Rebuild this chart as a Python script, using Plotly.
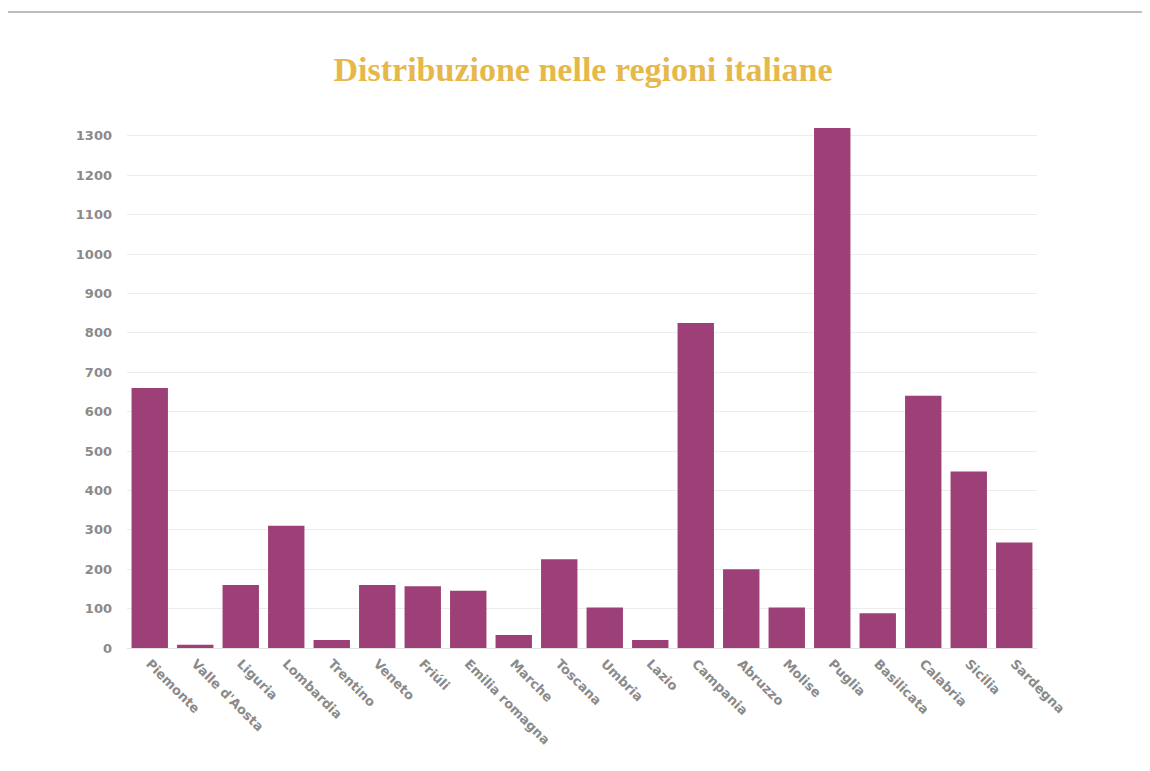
import plotly.graph_objects as go

regions = ["Piemonte", "Valle d'Aosta", "Liguria", "Lombardia", "Trentino", "Veneto",
           "Friuli", "Emilia romagna", "Marche", "Toscana", "Umbria", "Lazio",
           "Campania", "Abruzzo", "Molise", "Puglia", "Basilicata", "Calabria",
           "Sicilia", "Sardegna"]
region_labels = ["Piemonte", "Valle d'Aosta", "Liguria", "Lombardia", "Trentino", "Veneto",
                 "Friúli", "Emilia romagna", "Marche", "Toscana", "Umbria", "Lazio",
                 "Campania", "Abruzzo", "Molise", "Puglia", "Basilicata", "Calabria",
                 "Sicilia", "Sardegna"]
values = [660, 8, 160, 310, 20, 160, 157, 145, 33, 225, 103, 20,
          825, 200, 103, 1320, 88, 640, 448, 268]
y_ticks = list(range(0, 1400, 100))

fig = go.Figure(go.Bar(
    x=regions, y=values,
    marker=dict(color="#9D4078", line=dict(width=0)),
))

tick_font = dict(family="DejaVu Sans", size=13, color="#8A8A8A", weight="bold")

fig.update_layout(
    width=1150, height=771,
    paper_bgcolor="white", plot_bgcolor="white",
    margin=dict(l=119, r=121, t=116, b=131),
    bargap=0.2,
    showlegend=False,
    title=dict(text="<b>Distribuzione nelle regioni italiane</b>",
               x=0.5, xanchor="center", y=0.921, yanchor="middle",
               font=dict(family="Liberation Serif", size=34, color="#E6B84A")),
    xaxis=dict(tickmode="array", tickvals=regions, ticktext=region_labels,
               tickangle=45, showgrid=False, showline=False, zeroline=False,
               tickfont=tick_font,
               ticks="outside", ticklen=2, tickcolor="rgba(0,0,0,0)"),
    yaxis=dict(range=[0, 1330], tickvals=y_ticks, showgrid=True, gridcolor="#ECECEC",
               zeroline=True, zerolinecolor="#E4E4E4", zerolinewidth=1,
               showline=False, ticklabelstandoff=14,
               tickfont=tick_font),
    shapes=[dict(type="line", xref="paper", yref="paper",
                 x0=-0.131, x1=1.133, y0=1.2137, y1=1.2137,
                 line=dict(color="#BDBDBD", width=2))],
)

fig.write_html("out.html")
